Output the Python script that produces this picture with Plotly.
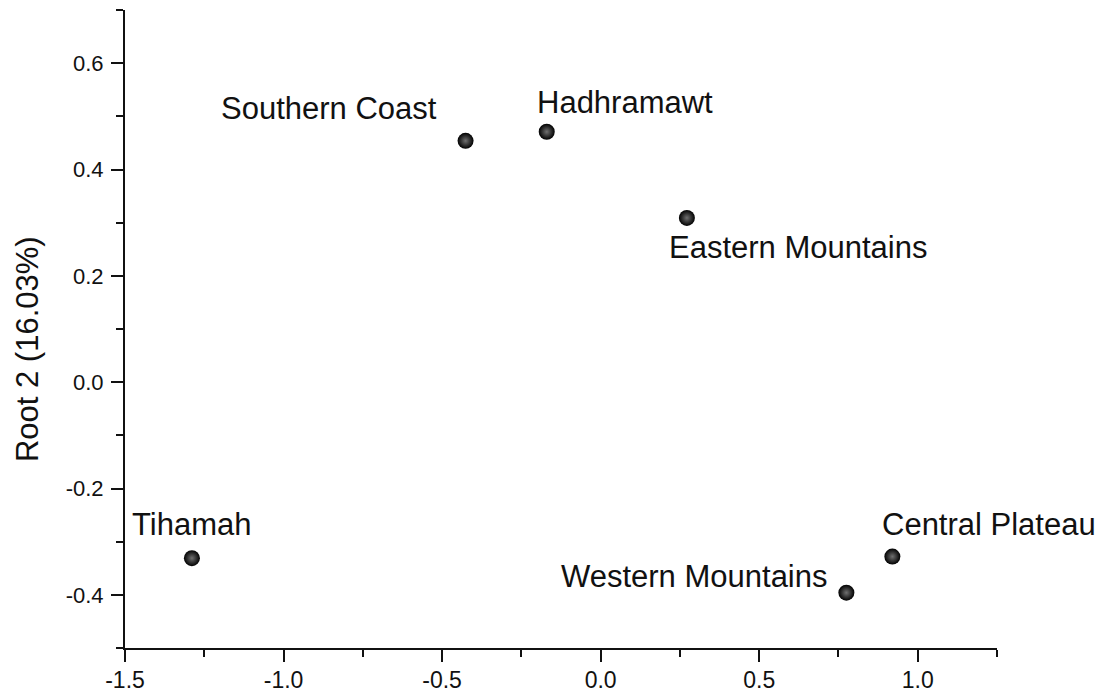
import plotly.graph_objects as go

regions = ["Southern Coast", "Hadhramawt", "Eastern Mountains", "Tihamah", "Western Mountains", "Central Plateau"]
root1 = [-0.426, -0.170, 0.272, -1.289, 0.775, 0.920]
root2 = [0.454, 0.471, 0.309, -0.331, -0.396, -0.328]

x_tickvals = [-1.5, -1.0, -0.5, 0.0, 0.5, 1.0]
x_ticktext = ["-1.5", "-1.0", "-0.5", "0.0", "0.5", "1.0"]
y_tickvals = [-0.4, -0.2, 0.0, 0.2, 0.4, 0.6]
y_ticktext = ["-0.4", "-0.2", "0.0", "0.2", "0.4", "0.6"]

# label placement styles (anchor, x shift px, y shift px)
label_style = {
    "Southern Coast": ("right", -27, 32),
    "Hadhramawt": ("left", -12, 29),
    "Eastern Mountains": ("left", -20, -30),
    "Tihamah": ("left", -62, 34),
    "Western Mountains": ("right", -16, 16),
    "Central Plateau": ("left", -12, 32),
}

FONT = "Arial, Liberation Sans, sans-serif"

fig = go.Figure()
fig.add_trace(go.Scatter(
    x=root1, y=root2, mode="markers",
    marker=dict(size=16, color="#000000",
                gradient=dict(type="radial", color="#707070"),
                line=dict(width=0)),
    hoverinfo="text", text=regions, cliponaxis=False,
))

for name, xv, yv in zip(regions, root1, root2):
    anc, xs, ys = label_style[name]
    fig.add_annotation(x=xv, y=yv, text=name, showarrow=False,
                       xanchor=anc, yanchor="middle", xshift=xs, yshift=ys,
                       font=dict(family=FONT, size=31, color="#111111"))

fig.add_annotation(xref="paper", yref="paper", x=-0.112, y=0.469,
                   text="Root 2 (16.03%)", textangle=-90, showarrow=False,
                   xanchor="center", yanchor="middle",
                   font=dict(family=FONT, size=31, color="#111111"))

axis_common = dict(
    showgrid=False, zeroline=False, showline=True, linecolor="#111111", linewidth=2,
    ticks="outside", ticklen=12, tickwidth=2, tickcolor="#111111",
    mirror=False, automargin=False,
)

fig.update_xaxes(range=[-1.5, 1.25], tickmode="array", tickvals=x_tickvals, ticktext=x_ticktext,
                 tickfont=dict(family=FONT, size=23, color="#111111"),
                 minor=dict(ticks="outside", ticklen=7, tickwidth=2, tickcolor="#111111", dtick=0.25, tick0=0),
                 ticklabelstandoff=-2, **axis_common)
fig.update_yaxes(range=[-0.5, 0.7], tickmode="array", tickvals=y_tickvals, ticktext=y_ticktext,
                 tickfont=dict(family=FONT, size=22, color="#111111"),
                 minor=dict(ticks="outside", ticklen=7, tickwidth=2, tickcolor="#111111", dtick=0.1, tick0=0),
                 ticklabelstandoff=3, **axis_common)

fig.update_layout(
    width=1109, height=698,
    margin=dict(l=125, r=112, t=10, b=50, pad=0),
    paper_bgcolor="white", plot_bgcolor="white",
    showlegend=False,
    font=dict(family=FONT, color="#111111"),
)

fig.write_html("out.html", config={"displayModeBar": False},
               post_script="document.body.style.margin='0';")
